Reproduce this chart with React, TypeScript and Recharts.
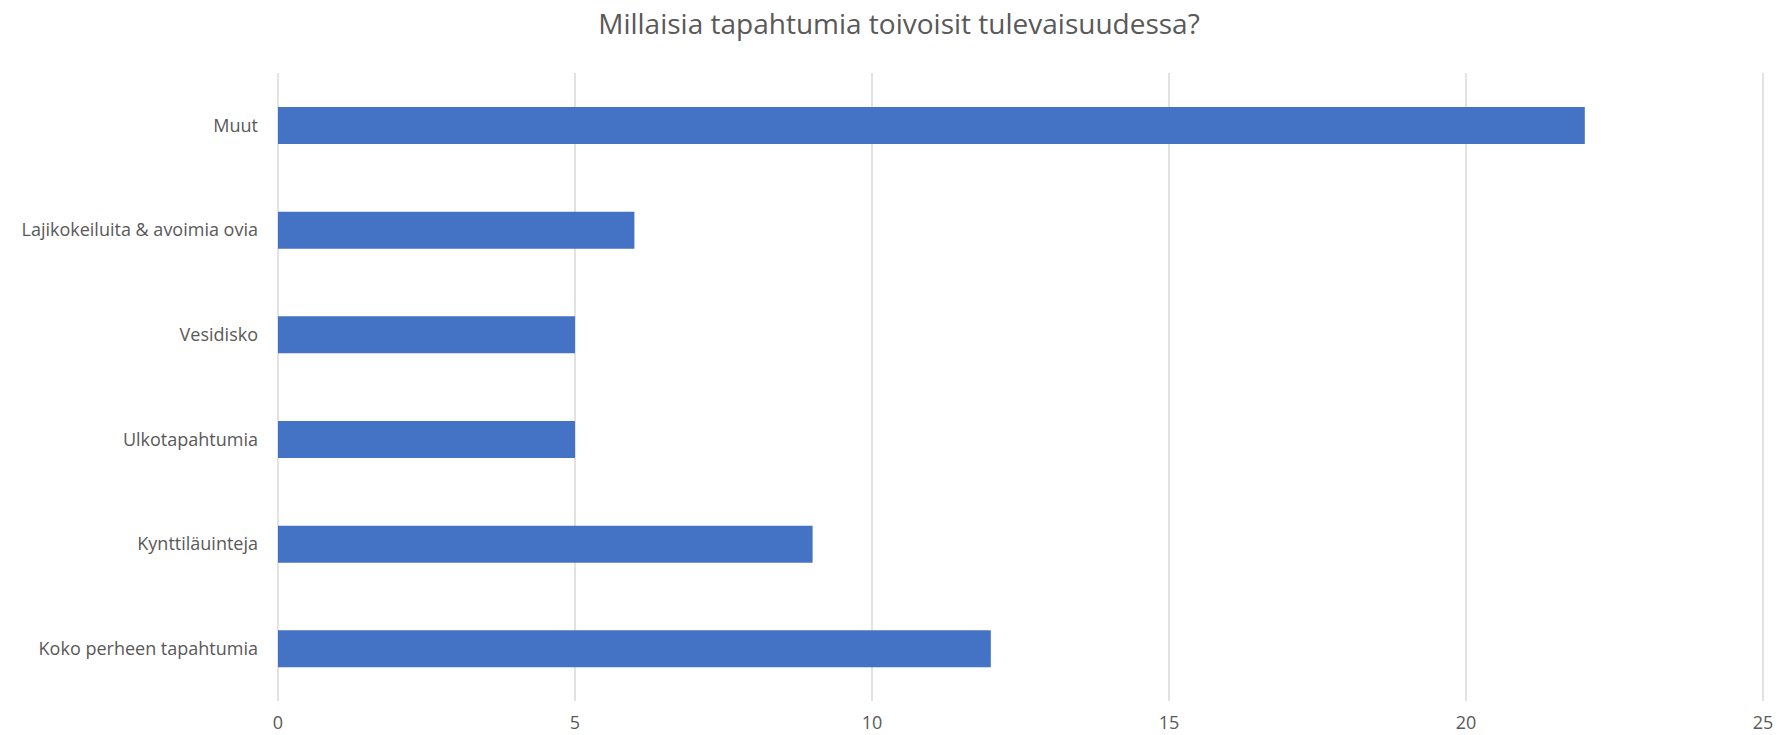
import React from 'react';
import {Bar, BarChart, CartesianGrid, XAxis, YAxis} from "recharts";

const categories = [
	'Muut',
	'Lajikokeiluita & avoimia ovia',
	'Vesidisko',
	'Ulkotapahtumia',
	'Kynttiläuinteja',
	'Koko perheen tapahtumia',
];
const counts = [22, 6, 5, 5, 9, 12];
const xTicks = [0, 5, 10, 15, 20, 25];

const title = 'Millaisia tapahtumia toivoisit tulevaisuudessa?';
const font = '"Open Sans", "Liberation Sans", sans-serif';

const App = () => {
	const data = categories.map((name, i) => ({name, value: counts[i]}));

	return (
		<div style={{position: 'relative', width: 1782, height: 735, background: '#fff', fontFamily: font}}>
			<style>{'body{margin:0}'}</style>
			<div style={{
				position: 'absolute', left: 8, width: 1782, top: 4, textAlign: 'center',
				fontSize: 28, color: '#595959'
			}}>{title}</div>
			<BarChart width={1782} height={735} data={data} layout="vertical"
					  margin={{left: 0, right: 19, top: 73, bottom: 0}} barCategoryGap="32.5%">
				<CartesianGrid horizontal={false} stroke="#D9D9D9" strokeWidth={1.5}/>
				<XAxis type="number" domain={[0, 25]} ticks={xTicks} axisLine={false} tickLine={false}
					   tickSize={0} tickMargin={15} height={34}
					   tick={{fill: '#595959', fontSize: 18, fontFamily: font}}/>
				<YAxis type="category" dataKey="name" width={278} axisLine={false} tickLine={false}
					   tickSize={0} tickMargin={20}
					   tick={{fill: '#595959', fontSize: 18, fontFamily: font}}/>
				<Bar dataKey="value" fill="#4472C4" isAnimationActive={false}/>
			</BarChart>
		</div>
	);
};

export default App;
